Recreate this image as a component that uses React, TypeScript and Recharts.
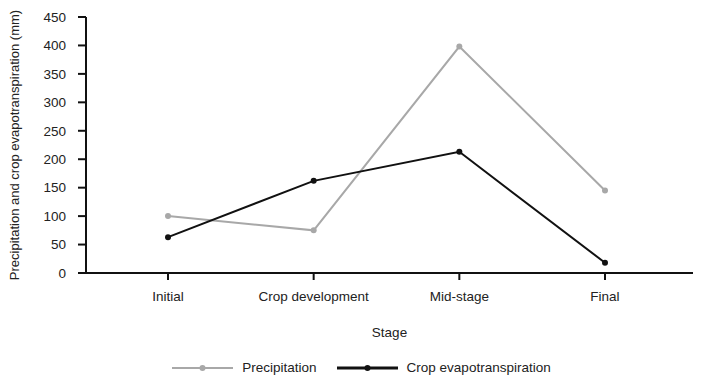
import { LineChart, Line, XAxis, YAxis, Legend } from "recharts";

const stages = ["Initial", "Crop development", "Mid-stage", "Final"];
const precipitation = [100, 75, 398, 145];
const cropEvapotranspiration = [63, 162, 213, 18];
const yTicks = [0, 50, 100, 150, 200, 250, 300, 350, 400, 450];

const data = stages.map((stage, i) => ({
  stage,
  precipitation: precipitation[i],
  et: cropEvapotranspiration[i],
}));

const FONT = "'Liberation Sans Narrow', 'Arial Narrow', 'Liberation Sans', Arial, sans-serif";
const FS = 13.5;

const legendItems = [
  { label: "Precipitation", color: "#a8a8a8", width: 2 },
  { label: "Crop evapotranspiration", color: "#111111", width: 3 },
];

function CustomLegend() {
  return (
    <div style={{ display: "flex", justifyContent: "center", alignItems: "center", gap: 20, paddingTop: 18, marginLeft: 30, fontFamily: FONT, fontSize: FS, color: "#222" }}>
      {legendItems.map((it) => (
        <div key={it.label} style={{ display: "flex", alignItems: "center" }}>
          <svg width={61} height={10} style={{ marginRight: 9 }}>
            <line x1={0} y1={5} x2={61} y2={5} stroke={it.color} strokeWidth={it.width} />
            <circle cx={30.5} cy={5} r={3} fill={it.color} />
          </svg>
          <span>{it.label}</span>
        </div>
      ))}
    </div>
  );
}

export default function App() {
  return (
    <div style={{ position: "absolute", left: 0, top: 0 }}>
      <LineChart width={704} height={382} data={data} margin={{ top: 17, right: 11, left: 0, bottom: 0 }}>
        <XAxis
          dataKey="stage"
          height={69}
          padding={{ left: 82, right: 88 }}
          stroke="#111"
          strokeWidth={2}
          tickSize={7}
          tickMargin={11}
          tick={{ fill: "#222", fontSize: FS, fontFamily: FONT }}
          label={{ value: "Stage", position: "insideBottom", offset: 5, fill: "#222", fontSize: FS, fontFamily: FONT }}
        />
        <YAxis
          domain={[0, 450]}
          ticks={yTicks}
          width={86}
          stroke="#111"
          strokeWidth={2}
          tickSize={8}
          tickMargin={12}
          interval={0}
          tick={{ fill: "#222", fontSize: FS, fontFamily: FONT }}
          label={{
            value: "Precipitation and crop evapotranspiration (mm)",
            angle: -90,
            position: "insideLeft",
            offset: 14,
            textAnchor: "middle",
            fill: "#222",
            fontSize: 13,
            fontFamily: FONT,
          }}
        />
        <Legend verticalAlign="bottom" height={40} content={<CustomLegend />} />
        <Line
          dataKey="precipitation"
          stroke="#a8a8a8"
          strokeWidth={2}
          dot={{ r: 3, fill: "#a8a8a8", stroke: "#a8a8a8", strokeWidth: 0 }}
          isAnimationActive={false}
        />
        <Line
          dataKey="et"
          stroke="#111111"
          strokeWidth={2}
          dot={{ r: 3, fill: "#111111", stroke: "#111111", strokeWidth: 0 }}
          isAnimationActive={false}
        />
      </LineChart>
    </div>
  );
}
